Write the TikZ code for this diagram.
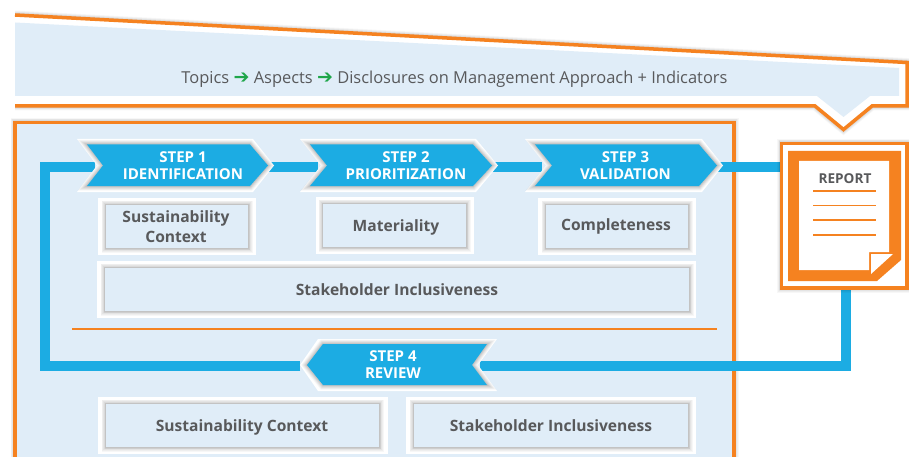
\documentclass[tikz,border=0pt]{standalone}
\usepackage{fontspec}
\setmainfont{Open Sans}
\newfontfamily\arrowfont{DejaVu Sans}
\definecolor{orangeC}{HTML}{F58220}
\definecolor{blueC}{HTML}{1CACE3}
\definecolor{paleC}{HTML}{E0EDF8}
\definecolor{textC}{HTML}{58595B}
\definecolor{greenC}{HTML}{1FA64A}
\tikzset{
  softshadow/.style={
    preaction={draw=black,draw opacity=.03,line width=9pt},
    preaction={draw=black,draw opacity=.035,line width=7.5pt},
    preaction={draw=black,draw opacity=.04,line width=6pt},
    preaction={draw=black,draw opacity=.045,line width=4.5pt},
    preaction={draw=black,draw opacity=.05,line width=3pt},
    preaction={draw=black,draw opacity=.05,line width=1.5pt}},
  whitebox/.style={fill=white,draw=none},
  infobox/.style={fill=paleC,draw=none,softshadow},
  infotext/.style={text=textC,font=\fontsize{15.6}{19.8}\selectfont\bfseries,align=center,inner sep=0pt},
  steptext/.style={text=white,font=\fontsize{15}{17}\selectfont\bfseries,align=center,inner sep=0pt},
  stepwhite/.style={fill=white,draw=none},
  stepblue/.style={fill=blueC,draw=none,softshadow},
  flow/.style={draw=blueC,line width=10pt,line join=miter},
  rule/.style={draw=orangeC,line width=1.3pt},
  frame/.style={draw=orangeC,line width=3.5pt,line join=miter}
}
\newcommand{\grn}{{\arrowfont\color{greenC}\fontsize{19}{15}\selectfont ➔}}
\begin{document}
\begin{tikzpicture}[x=1pt,y=-1pt]
\useasboundingbox (0,0) rectangle (909,457);
\fill[white] (0,0) rectangle (909,457);
% top banner
\begin{scope}
\clip (15,0) rectangle (909,140);
\draw[softshadow,draw=none] (15,15) -- (907,62.5) -- (907,106) -- (872,106) -- (843.5,129.5) -- (815,106) -- (15,106);
\end{scope}
\fill[white] (15,14) -- (908,62.5) -- (908,106) -- (872,106) -- (843.5,130) -- (815,106) -- (15,106) -- cycle;
\fill[paleC] (15,22.5) -- (899,68) -- (899,96) -- (870,96) -- (843.5,117) -- (817,96) -- (15,96) -- cycle;
\draw[frame] (15,15) -- (907,62.5) -- (907,106) -- (872,106) -- (843.5,129.5) -- (815,106) -- (15,106);
\node[text=textC,font=\fontsize{16.45}{20}\selectfont,inner sep=0pt] (flowline) at (454.5,79.5) {Topics \grn{} Aspects \grn{} Disclosures on Management Approach + Indicators};
% main panel
\begin{scope}
\clip (0,110) rectangle (780,457);
\path[frame,fill=paleC,softshadow] (15,122.5) -- (734,122.5) -- (734,470) -- (15,470) -- cycle;
\end{scope}
% coordinates for connectors
\coordinate (s1w) at (95,167);
\coordinate (s1e) at (268,167);
\coordinate (s2w) at (318,167);
\coordinate (s2e) at (491,167);
\coordinate (s3w) at (542,167);
\coordinate (s3e) at (716,167);
\coordinate (repw) at (782,167);
\coordinate (reps) at (846,288);
\coordinate (s4e) at (480,365.5);
\coordinate (s4w) at (300,365.5);
\coordinate (c1) at (846,365.5);
\coordinate (c2) at (45,365.5);
\coordinate (c3) at (45,167);
\draw[flow] (s1e) -- (s2w);
\draw[flow] (s2e) -- (s3w);
\draw[flow] (s3e) -- (repw);
\draw[flow] (reps) -- (c1) -- (s4e);
\draw[flow] (s4w) -- (c2) -- (c3) -- (s1w);
% steps
\path[stepwhite] (77,139) -- (253,139) -- (274,165.5) -- (253,192) -- (77,192) -- (97,165.5) -- cycle;
\path[stepblue] (87,144.5) -- (250,144.5) -- (268,165.5) -- (250,186) -- (87,186) -- (103,165.5) -- cycle;
\node[steptext] (s1) at (183,165.5) {STEP 1\\IDENTIFICATION};
\path[stepwhite] (300,139) -- (476,139) -- (498,165.5) -- (476,192) -- (300,192) -- (321,165.5) -- cycle;
\path[stepblue] (310,144.5) -- (473,144.5) -- (492,165.5) -- (473,186) -- (310,186) -- (327,165.5) -- cycle;
\node[steptext] (s2) at (406,165.5) {STEP 2\\PRIORITIZATION};
\path[stepwhite] (525,139) -- (702,139) -- (723,165.5) -- (702,192) -- (525,192) -- (546,165.5) -- cycle;
\path[stepblue] (535,144.5) -- (699,144.5) -- (717,165.5) -- (699,186) -- (535,186) -- (552,165.5) -- cycle;
\node[steptext] (s3) at (625.5,165.5) {STEP 3\\VALIDATION};
\path[stepwhite] (318,339) -- (497,339) -- (478,365) -- (497,391) -- (318,391) -- (300,365) -- cycle;
\path[stepblue] (323,344) -- (487,344) -- (472,365) -- (487,385) -- (323,385) -- (307,365) -- cycle;
\node[steptext] (s4) at (393,365) {STEP 4\\REVIEW};
% info boxes
\fill[whitebox] (98,198) rectangle (256,255);
\path[infobox] (106,205) rectangle (248,248);
\node[infotext] (b1) at (176,227) {Sustainability\\Context};
\fill[whitebox] (316,197) rectangle (474,254);
\path[infobox] (323,204) rectangle (466,247);
\node[infotext] (b2) at (396,227) {Materiality};
\fill[whitebox] (538,198) rectangle (696,255);
\path[infobox] (546,205) rectangle (688,248);
\node[infotext] (b3) at (616,226.5) {Completeness};
\fill[whitebox] (97,261) rectangle (696,318);
\path[infobox] (105,268) rectangle (689,311);
\node[infotext] (b4) at (397,289.5) {Stakeholder Inclusiveness};
\draw[rule] (72,329) -- (717,329);
\fill[whitebox] (98,397) rectangle (388,454);
\path[infobox] (106,404) rectangle (379,447);
\node[infotext] (b5) at (242,427) {Sustainability Context};
\fill[whitebox] (406,397) rectangle (696,454);
\path[infobox] (414,404) rectangle (688,447);
\node[infotext] (b6) at (551,425.5) {Stakeholder Inclusiveness};
% report
\path[frame,fill=white,softshadow] (781.5,143.5) rectangle (907,288);
\fill[orangeC] (788,151) -- (901,151) -- (901,260) -- (877,281) -- (788,281) -- cycle;
\fill[white] (799,161) -- (889,161) -- (889,252) -- (869,252) -- (869,270) -- (799,270) -- cycle;
\fill[white] (871,254) -- (893,254) -- (871,274) -- cycle;
\node[text=textC,font=\fontsize{13.6}{14}\selectfont\bfseries,inner sep=0pt] (rep) at (845,178.5) {REPORT};
\draw[rule,line width=1.5pt] (813,191) -- (876,191);
\draw[rule] (813,205.5) -- (876,205.5);
\draw[rule] (813,220) -- (876,220);
\draw[rule] (813,235) -- (876,235);
\end{tikzpicture}
\end{document}
